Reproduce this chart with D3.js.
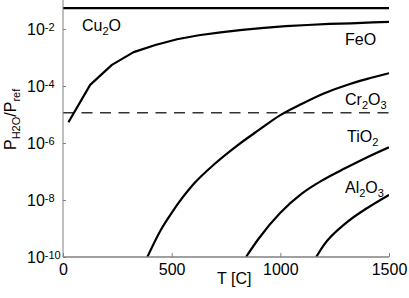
<!DOCTYPE html>
<html>
<head>
<meta charset="utf-8">
<script src="https://cdn.jsdelivr.net/npm/d3@7/dist/d3.min.js"></script>
<style>
  html, body { margin: 0; padding: 0; background: #fff; }
  svg { display: block; font-family: "Liberation Sans", Arial, sans-serif; }
</style>
</head>
<body>
<svg id="chart" width="409" height="298"></svg>
<script>
// ---- data (log10 of P_H2O/P_ref) ----
const cu2oT = [0, 1500];
const cu2oLog = [-1.27, -1.27];

const feoT = [25, 125, 225, 325, 425, 525, 625, 725, 825, 925, 1025, 1125, 1225, 1325, 1425, 1500];
const feoLog = [-5.27, -3.96, -3.26, -2.81, -2.56, -2.36, -2.22, -2.12, -2.03, -1.96, -1.9, -1.86, -1.82, -1.8, -1.77, -1.75];

const cr2o3T = [388, 450, 500, 600, 700, 800, 900, 1000, 1100, 1200, 1300, 1400, 1500];
const cr2o3Log = [-10, -9.05, -8.45, -7.45, -6.72, -6.1, -5.55, -5.02, -4.62, -4.26, -3.98, -3.75, -3.55];

const tio2T = [842, 900, 1000, 1100, 1200, 1300, 1400, 1500];
const tio2Log = [-10, -9.36, -8.45, -7.77, -7.28, -6.88, -6.5, -6.15];

const al2o3T = [1165, 1200, 1300, 1400, 1500];
const al2o3Log = [-10, -9.58, -8.82, -8.28, -7.82];

const refLevel = 1.15e-5;

const xTicks = [0, 500, 1000, 1500];
const yTickExps = [-10, -8, -6, -4, -2];

const labels = [
  { parts: [["Cu", 0], ["2", 1], ["O", 0]], x: 82, y: 31 },
  { parts: [["FeO", 0]], x: 345, y: 45 },
  { parts: [["Cr", 0], ["2", 1], ["O", 0], ["3", 1]], x: 345, y: 105 },
  { parts: [["TiO", 0], ["2", 1]], x: 347, y: 142 },
  { parts: [["Al", 0], ["2", 1], ["O", 0], ["3", 1]], x: 345, y: 193 }
];

// ---- layout ----
const svg = d3.select("#chart");
const x = d3.scaleLinear().domain([0, 1500]).range([63, 389]);
const y = d3.scaleLog().domain([1e-10, 1e-1]).range([257, 0.5]);

const clipId = "plotclip";
svg.append("clipPath").attr("id", clipId).append("rect")
  .attr("x", 63).attr("y", 0).attr("width", 326).attr("height", 257);

const plot = svg.append("g").attr("clip-path", `url(#${clipId})`);

function series(T, L) { return T.map((t, i) => [t, Math.pow(10, L[i])]); }

const lineLin = d3.line().x(d => x(d[0])).y(d => y(d[1]));
const lineSmooth = d3.line().x(d => x(d[0])).y(d => y(d[1])).curve(d3.curveMonotoneX);

// dashed reference
plot.append("path")
  .attr("d", lineLin([[0, refLevel], [1500, refLevel]]))
  .attr("fill", "none").attr("stroke", "#333").attr("stroke-width", 1.5)
  .attr("stroke-dasharray", "11,7.5");

const curves = [
  [series(cu2oT, cu2oLog), lineLin],
  [series(feoT, feoLog), lineLin],
  [series(cr2o3T, cr2o3Log), lineSmooth],
  [series(tio2T, tio2Log), lineSmooth],
  [series(al2o3T, al2o3Log), lineSmooth]
];
curves.forEach(([data, gen]) => {
  plot.append("path").attr("d", gen(data))
    .attr("fill", "none").attr("stroke", "#000").attr("stroke-width", 2.2)
    .attr("stroke-linejoin", "round");
});

// axes
const xAxis = d3.axisBottom(x).tickValues(xTicks).tickSize(-4).tickPadding(6).tickFormat(d3.format("d"));
const gx = svg.append("g").attr("transform", "translate(0,257)").call(xAxis);
gx.select(".domain").attr("stroke", "#808080").attr("stroke-width", 1.4).attr("d", "M63,0H389");
gx.selectAll(".tick line").attr("stroke", "#808080");
gx.selectAll(".tick text").attr("font-size", 16).attr("fill", "#000")
  .attr("font-family", "Liberation Sans, Arial, sans-serif").attr("y", 0).attr("dy", 18);

const yAxis = d3.axisLeft(y).tickValues(yTickExps.map(e => Math.pow(10, e))).tickSize(-3).tickFormat("");
const gy = svg.append("g").attr("transform", "translate(63,0)").call(yAxis);
gy.select(".domain").attr("stroke", "#808080").attr("stroke-width", 1).attr("d", "M0,0V257");
gy.selectAll(".tick line").attr("stroke", "#808080");

// y tick labels with superscripts
yTickExps.forEach(e => {
  const ty = y(Math.pow(10, e));
  const t = svg.append("text").attr("x", 27).attr("y", ty + 6)
    .attr("font-size", 16).attr("fill", "#000");
  t.append("tspan").text("10");
  t.append("tspan").attr("font-size", 11).attr("dy", -4).text(String(e));
});

// axis titles
svg.append("text").attr("x", 217).attr("y", 284).attr("font-size", 16).attr("fill", "#000").text("T [C]");

const yl = svg.append("text").attr("transform", "translate(15.5,150) rotate(-90)")
  .attr("font-size", 16).attr("fill", "#000");
yl.append("tspan").text("P");
yl.append("tspan").attr("font-size", 11).attr("dy", 4).text("H2O");
yl.append("tspan").attr("dy", -4).text("/P");
yl.append("tspan").attr("font-size", 11).attr("dy", 4).text("ref");

// curve labels
labels.forEach(l => {
  const t = svg.append("text").attr("x", l.x).attr("y", l.y).attr("font-size", 16).attr("fill", "#000");
  let cur = 0;
  l.parts.forEach(([s, sub]) => {
    const dy = (sub ? 4 : 0) - cur;
    cur = sub ? 4 : 0;
    t.append("tspan").attr("dy", dy).attr("font-size", sub ? 11 : 16).text(s);
  });
});
</script>
</body>
</html>
